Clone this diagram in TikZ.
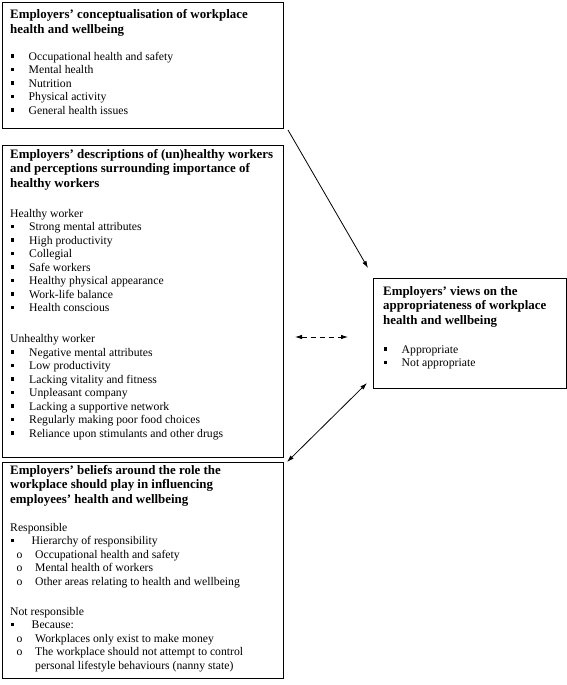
\documentclass[tikz,border=0pt]{standalone}
\usepackage{fontspec}
\setmainfont{Liberation Serif}
\usetikzlibrary{arrows.meta}
\newcommand{\sqb}{\raisebox{2.3pt}{\rule{3.4pt}{3.4pt}}}
\begin{document}
\begin{tikzpicture}[x=1pt,y=-1pt,
  box/.style={draw, line width=0.9pt, inner sep=0pt, anchor=north west},
  ttl/.style={anchor=base west, inner sep=0pt, font=\fontsize{12.9}{14.8}\selectfont\bfseries},
  txt/.style={anchor=base west, inner sep=0pt, font=\fontsize{11.7}{13.5}\selectfont},
  >={Latex[length=7pt,width=4.5pt]},
  arr/.style={line width=0.8pt},
]
\useasboundingbox (0,0) rectangle (567,685);
% boxes
\node[box, minimum width=281pt, minimum height=126pt] (b1) at (2,2) {};
\node[box, minimum width=281pt, minimum height=312pt] (b2) at (2,145) {};
\node[box, minimum width=193pt, minimum height=110pt] (b3) at (373,278) {};
\node[box, minimum width=281pt, minimum height=216pt] (b4) at (2,462) {};
% box 1
\foreach \y/\t [count=\i] in {19/Employers’ conceptualisation of workplace, 33.8/health and wellbeing}
  \node[ttl] (b1t\i) at (10,\y) {\t};
\foreach \y/\t [count=\i] in {60/Occupational health and safety, 73.5/Mental health, 87/Nutrition, 100.5/Physical activity, 114/General health issues}
  \node[txt] (b1l\i) at (10.5,\y) {\makebox[18pt][l]{\sqb}\t};
% box 2
\foreach \y/\t [count=\i] in {158/Employers’ descriptions of (un)healthy workers, 172.8/and perceptions surrounding importance of, 187.6/healthy workers}
  \node[ttl] (b2t\i) at (10,\y) {\t};
\node[txt] (b2h) at (10,217) {Healthy worker};
\foreach \y/\t [count=\i] in {230.5/Strong mental attributes, 244/High productivity, 257.5/Collegial, 271/Safe workers, 284.5/Healthy physical appearance, 298/Work-life balance, 311.5/Health conscious}
  \node[txt] (b2a\i) at (10.5,\y) {\makebox[18.5pt][l]{\sqb}\t};
\node[txt] (b2u) at (10,342.5) {Unhealthy worker};
\foreach \y/\t [count=\i] in {356/Negative mental attributes, 369.5/Low productivity, 383/Lacking vitality and fitness, 396.5/Unpleasant company, 410/Lacking a supportive network, 423.5/Regularly making poor food choices, 437/Reliance upon stimulants and other drugs}
  \node[txt] (b2b\i) at (10.5,\y) {\makebox[18.5pt][l]{\sqb}\t};
% box 3
\foreach \y/\t [count=\i] in {295/Employers’ views on the, 309.8/appropriateness of workplace, 324.6/health and wellbeing}
  \node[ttl] (b3t\i) at (383,\y) {\t};
\foreach \y/\t [count=\i] in {353/Appropriate, 366.5/Not appropriate}
  \node[txt] (b3l\i) at (383.5,\y) {\makebox[18pt][l]{\sqb}\t};
% box 4
\foreach \y/\t [count=\i] in {474/Employers’ beliefs around the role the, 488.8/workplace should play in influencing, 503.6/employees’ health and wellbeing}
  \node[ttl] (b4t\i) at (10,\y) {\t};
\node[txt] (b4r) at (10,531) {Responsible};
\node[txt] (b4r1) at (10.5,544.5) {\makebox[21pt][l]{\sqb}Hierarchy of responsibility};
\foreach \y/\t [count=\i] in {558/Occupational health and safety, 571.5/Mental health of workers, 585/Other areas relating to health and wellbeing}
  \node[txt] (b4o\i) at (16.5,\y) {\makebox[18.5pt][l]{o}\t};
\node[txt] (b4n) at (10,615) {Not responsible};
\node[txt] (b4n1) at (10.5,628.5) {\makebox[21pt][l]{\sqb}Because:};
\foreach \y/\t [count=\i] in {642/Workplaces only exist to make money, 655.5/The workplace should not attempt to control}
  \node[txt] (b4p\i) at (16.5,\y) {\makebox[18.5pt][l]{o}\t};
\node[txt] (b4p3) at (35,669) {personal lifestyle behaviours (nanny state)};
% connectors
\coordinate (a1s) at (288,130);
\coordinate (a1e) at (368,268);
\coordinate (a2s) at (295,337);
\coordinate (a2e) at (348,337);
\coordinate (a3s) at (367,383);
\coordinate (a3e) at (287,462);
\draw[arr, ->] (a1s) -- (a1e);
\draw[arr, <->, dash pattern=on 5pt off 4pt] (a2s) -- (a2e);
\draw[arr, <->] (a3s) -- (a3e);
\end{tikzpicture}
\end{document}
